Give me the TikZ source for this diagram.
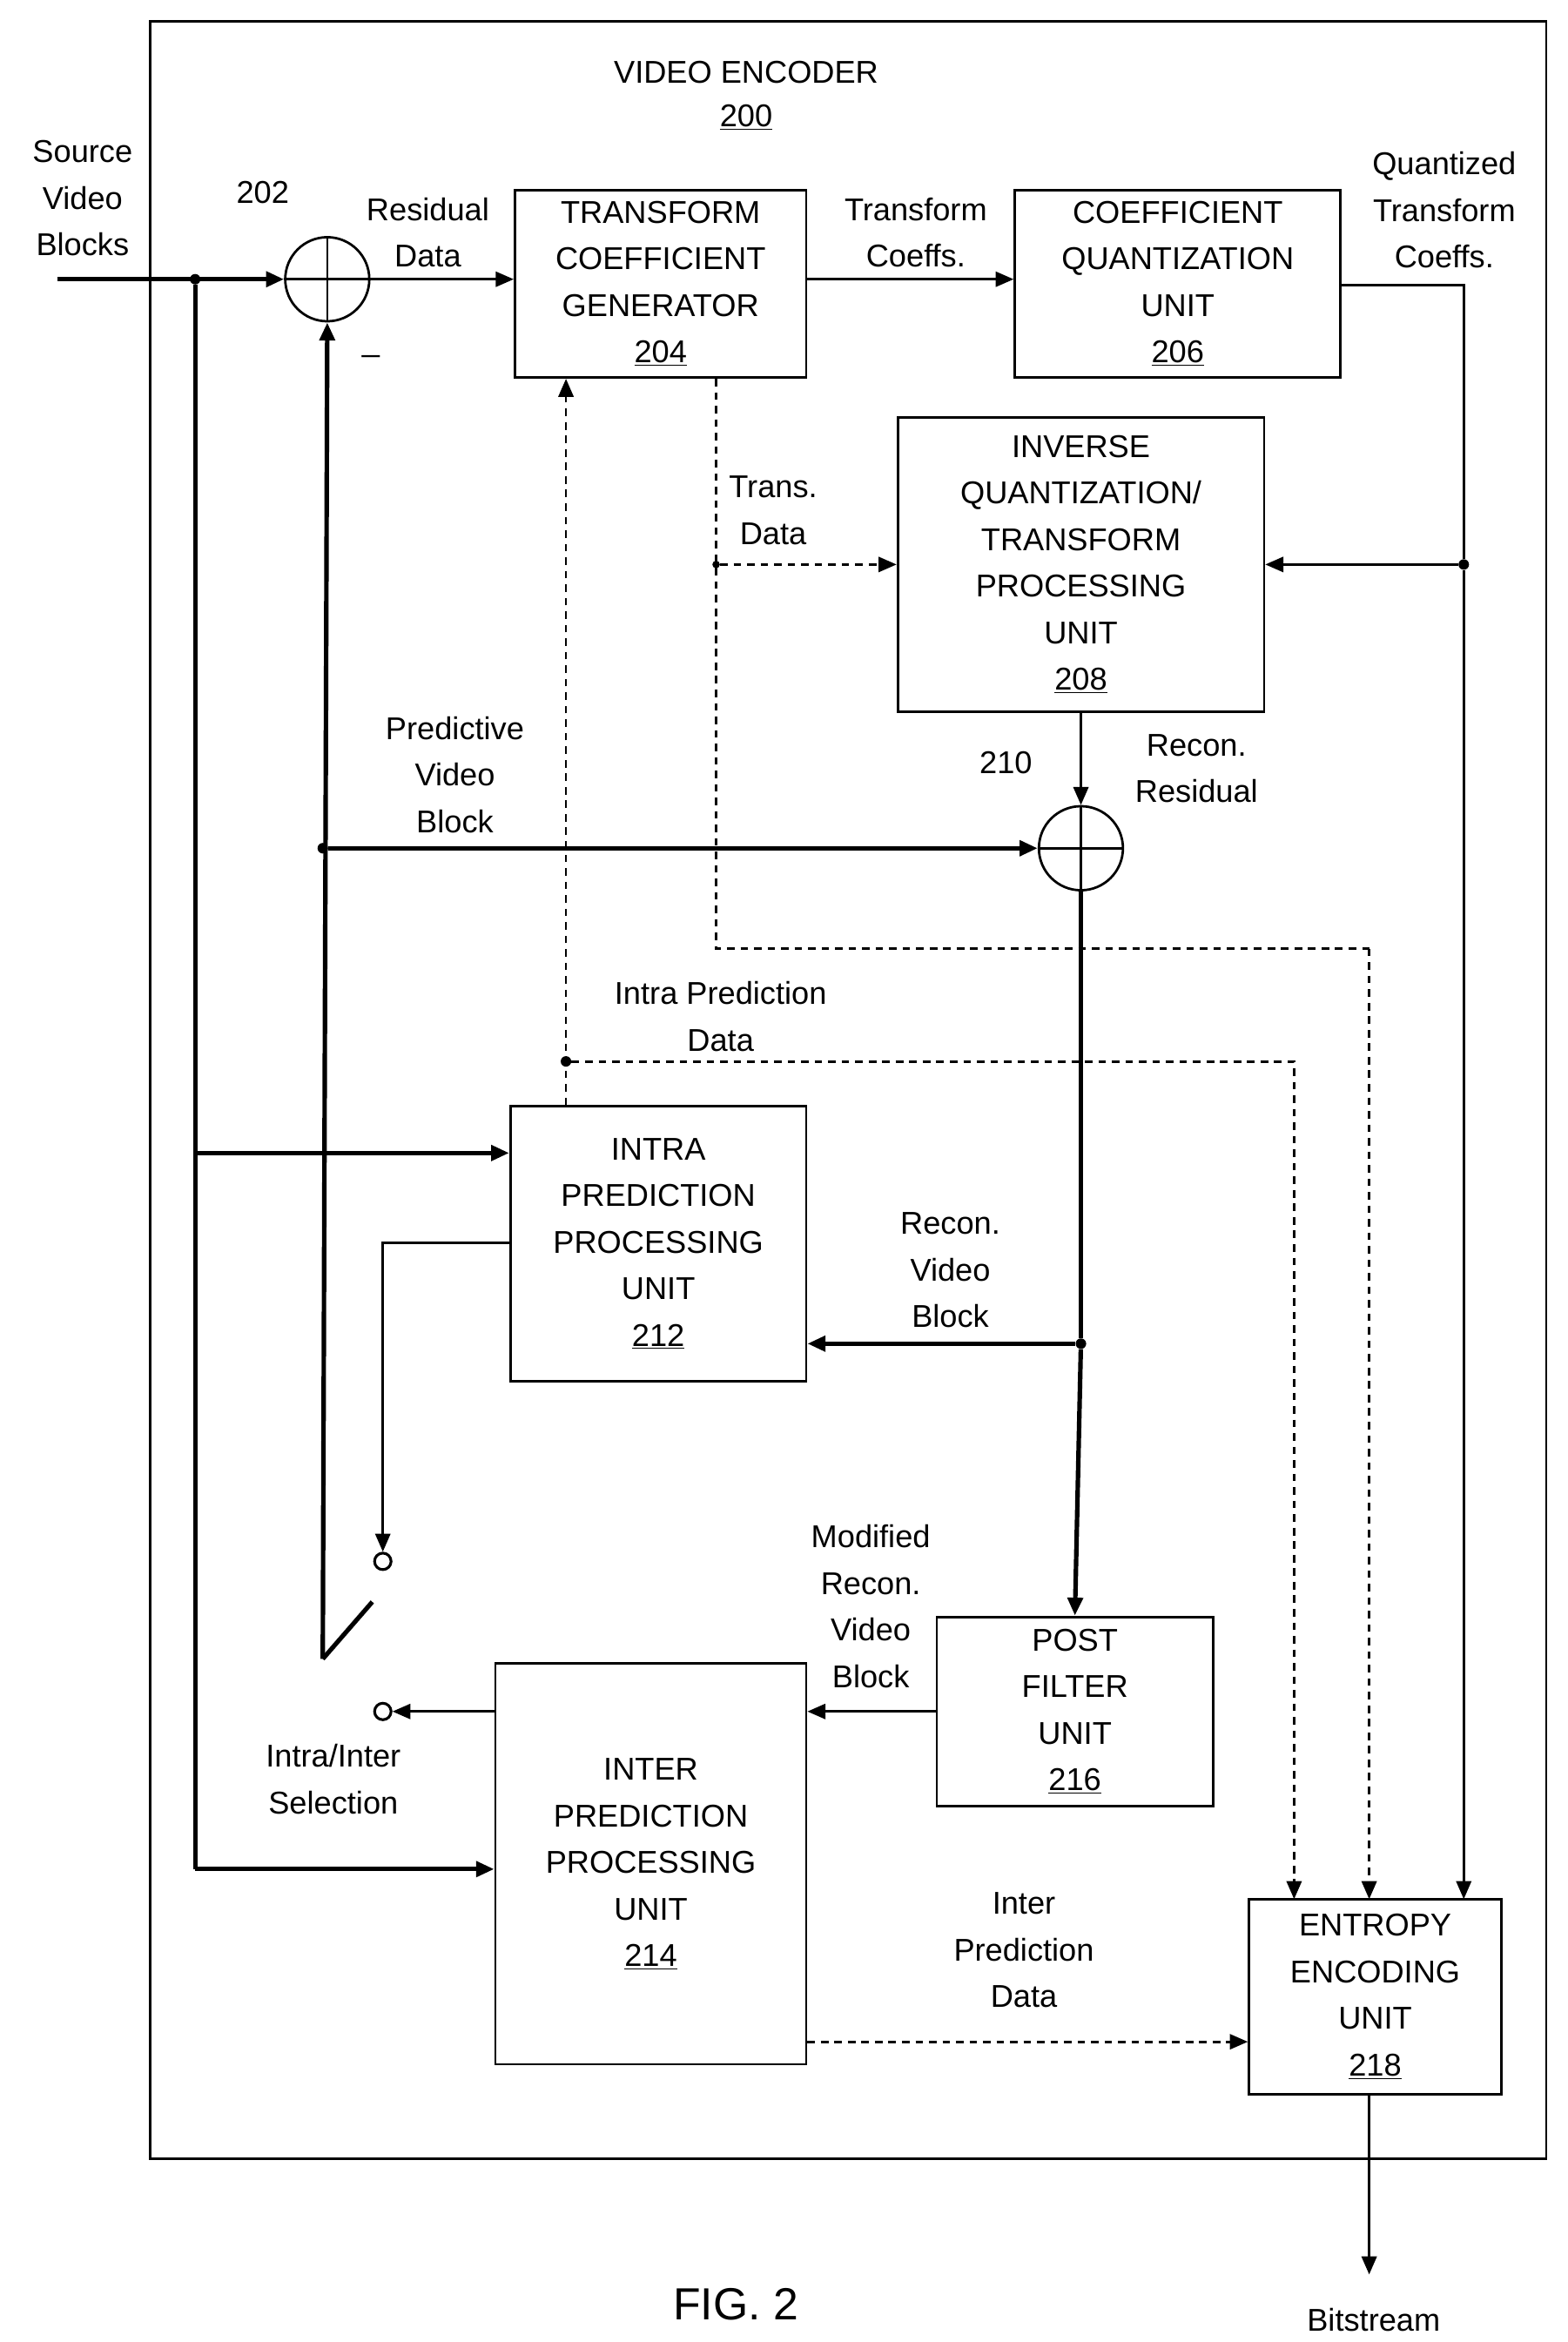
\documentclass[tikz,border=0pt]{standalone}
\usepackage{fontspec}
\setmainfont{Liberation Sans}
\usetikzlibrary{arrows.meta}
\begin{document}
\begin{tikzpicture}[x=1pt,y=-1pt,
 every node/.style={font=\fontsize{21}{31}\selectfont, align=center, inner sep=0pt},
 box/.style={draw, line width=1.6pt},
 ln/.style={line width=1.6pt},
 th/.style={line width=3pt},
 ar/.style={-{Triangle[length=12pt,width=10pt]}},
 da/.style={line width=1.6pt, dash pattern=on 5pt off 4pt},
 dot/.style={circle, fill, minimum size=7pt},
 sw/.style={circle, draw, line width=1.8pt, minimum size=11pt, fill=white},
 sum/.style={circle, draw, line width=1.6pt, minimum size=56pt}]
\useasboundingbox (0,0) rectangle (1044,1560);
\draw[box] (100,14) rectangle (1030,1438);
\node at (497,48) {VIDEO ENCODER};
\node at (497,78) {\underline{200}};
\node at (55,132) {Source\\Video\\Blocks};
\node at (175,128) {202};
\node at (285,155) {Residual\\Data};
\node at (247,236) {\_};
\node[sum] (s1) at (218,186) {};
\draw[ln] (s1.north)--(s1.south) (s1.west)--(s1.east);
\node[box, minimum width=194pt, minimum height=125pt] (tcg) at (440,189) {TRANSFORM\\COEFFICIENT\\GENERATOR\\\underline{204}};
\node[box, minimum width=217pt, minimum height=125pt] (cqu) at (784.5,189) {COEFFICIENT\\QUANTIZATION\\UNIT\\\underline{206}};
\node at (610,155) {Transform\\Coeffs.};
\node at (962,140) {Quantized\\Transform\\Coeffs.};
\node[box, minimum width=244pt, minimum height=196pt] (iq) at (720,376) {INVERSE\\QUANTIZATION/\\TRANSFORM\\PROCESSING\\UNIT\\\underline{208}};
\node[sum] (s2) at (720,565) {};
\draw[ln] (s2.north)--(s2.south) (s2.west)--(s2.east);
\node at (670,508) {210};
\node at (797,512) {Recon.\\Residual};
\node at (303,516) {Predictive\\Video\\Block};
\node at (515,340) {Trans.\\Data};
\node at (480,677) {Intra Prediction\\Data};
\node[box, minimum width=197pt, minimum height=183pt] (intra) at (438.5,828.5) {INTRA\\PREDICTION\\PROCESSING\\UNIT\\\underline{212}};
\node at (633,846) {Recon.\\Video\\Block};
\node at (580,1070) {Modified\\Recon.\\Video\\Block};
\node[box, minimum width=184pt, minimum height=126pt] (pf) at (716,1140) {POST\\FILTER\\UNIT\\\underline{216}};
\node[box, minimum width=207pt, minimum height=267pt] (inter) at (433.5,1241.5) {INTER\\PREDICTION\\PROCESSING\\UNIT\\\underline{214}};
\node[box, minimum width=168pt, minimum height=130pt] (ent) at (916,1330) {ENTROPY\\ENCODING\\UNIT\\\underline{218}};
\node at (222,1185) {Intra/Inter\\Selection};
\node at (682,1299) {Inter\\Prediction\\Data};
\node at (915,1545) {Bitstream};
\node[font=\fontsize{30}{36}\selectfont] at (490,1535) {FIG. 2};
% source
\coordinate (src) at (38,186);
\node[dot] (d1) at (130,186) {};
\draw[th,ar] (src)--(s1.west);
\draw[th] (d1)--(130,1245);
\draw[th,ar] (130,768)--(intra.west|-0,768);
\draw[th,ar] (130,1245)--(inter.west|-0,1245);
% residual etc
\draw[ln,ar] (s1.east)--(tcg.west|-s1);
\draw[ln,ar] (tcg.east|-0,186)--(cqu.west|-0,186);
\node[dot] (d2) at (975,376) {};
\draw[ln] (cqu.east|-0,190)--(975,190)--(d2);
\draw[ln,ar] (d2)--(975,1265);
\draw[ln,ar] (d2)--(iq.east|-d2);
\draw[ln,ar] (iq.south)--(s2.north);
% predictive
\node[dot] (d3) at (215,565) {};
\draw[th,ar] (215,1105)--(s1.south);
\draw[th,ar] (d3)--(s2.west);
\draw[th] (215,1105)--(248,1067);
\node[sw] (c1) at (255,1040) {};
\node[sw] (c2) at (255,1140) {};
\draw[ln,ar] (intra.west|-0,828)--(255,828)--(c1.north);
\draw[ln,ar] (inter.west|-c2)--(c2.east);
% recon
\node[dot] (d4) at (720,895) {};
\draw[th] (s2.south)--(d4);
\draw[th,ar] (d4)--(pf.north);
\draw[th,ar] (d4)--(intra.east|-d4);
\draw[ln,ar] (pf.west)--(inter.east|-pf);
% dashed
\node[dot] (d5) at (377,707) {};
\draw[da,ar] (intra.north-|d5)--(tcg.south-|d5);
\draw[da,ar] (d5)--(862,707)--(862,1265);
\node[dot,minimum size=5pt] (d6) at (477,376) {};
\draw[da] (tcg.south-|d6)--(477,632)--(912,632);
\draw[da,ar] (912,632)--(912,1265);
\draw[da,ar] (d6)--(iq.west|-d6);
\draw[da,ar] (inter.east|-0,1360)--(ent.west|-0,1360);
\draw[ln,ar] (ent.south-|912,0)--(912,1515);
\end{tikzpicture}
\end{document}
